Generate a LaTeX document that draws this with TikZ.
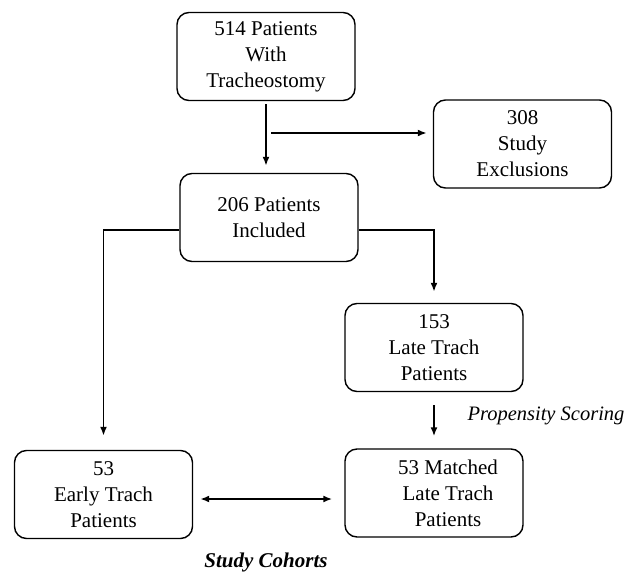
\documentclass[tikz,border=0pt]{standalone}
\usepackage{fontspec}
\setmainfont{Liberation Serif}
\usetikzlibrary{arrows.meta}
\begin{document}
\begin{tikzpicture}[x=1pt,y=-1pt,>={Latex[length=9pt,width=7pt]},
		mybox/.style={draw,line width=1.4pt,rounded corners=12pt,minimum width=178pt,minimum height=88pt,
			align=center,inner sep=0pt,font=\fontsize{21}{26}\selectfont},
		arrowstyle/.style={->,line width=1.8pt}]
		
		\useasboundingbox (0,0) rectangle (627,573);
		
		\node[mybox] (total)    at (266,56.5)  {514 Patients\\With\\Tracheostomy};
		\node[mybox] (excluded) at (522.5,144) {308\\Study\\Exclusions};
		\node[mybox] (included) at (269,217.5) {206 Patients\\Included};
		\node[mybox] (late)     at (434,347.5) {153\\Late Trach\\Patients};
		\node[mybox] (early)    at (103.5,494.5) {53\\Early Trach\\Patients};
		\node[mybox] (matched)  at (434,493)   {\hspace*{28pt}53 Matched\\\hspace*{28pt}Late Trach\\\hspace*{28pt}Patients};
		
		\node[font=\fontsize{20.5}{24}\selectfont\itshape] (scoring) at (546,416) {Propensity Scoring};
		\node[font=\fontsize{21}{24}\selectfont\bfseries\itshape] (cohorts) at (266,562) {Study Cohorts};
		
		\coordinate (split) at (271,133);
		
		\draw[arrowstyle,shorten <=3pt,shorten >=7pt] (total.south) -- (total.south |- included.north);
		\draw[arrowstyle,shorten >=6pt] (split) -- (split -| excluded.west);
		\draw[arrowstyle,shorten >=14pt] ([yshift=-12.5pt]included.west) -| (early.north);
		\draw[arrowstyle,shorten >=11pt] ([yshift=-12.5pt]included.east) -| (late.north);
		\draw[arrowstyle,shorten <=13pt,shorten >=12pt] (late.south) -- (matched.north);
		\draw[arrowstyle,<->,shorten <=7pt,shorten >=12pt] ([yshift=-4.5pt]early.east) -- ([yshift=-4.5pt]early.east -| matched.west);
\end{tikzpicture}
\end{document}
